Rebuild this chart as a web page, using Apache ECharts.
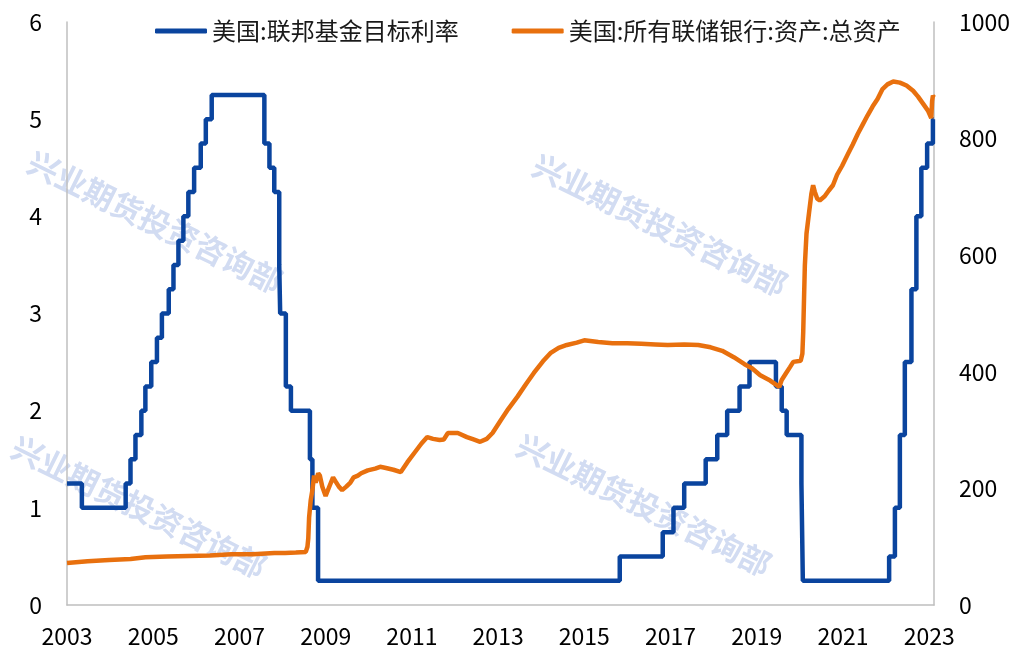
<!DOCTYPE html>
<html>
<head>
<meta charset="utf-8">
<title>联邦基金目标利率与联储总资产</title>
<script src="https://cdn.jsdelivr.net/npm/echarts@6/dist/echarts.min.js"></script>
<style>
html,body{margin:0;padding:0;background:#fff;}
#main{width:1015px;height:652px;}
</style>
</head>
<body>
<div id="main"></div>
<script>
// 联邦基金目标利率(上限), 变动日期 -> 新利率
var rateDates = ['2003-02-19','2003-06-25','2004-06-30','2004-08-10','2004-09-21','2004-11-10','2004-12-14',
	'2005-02-02','2005-03-22','2005-05-03','2005-06-30','2005-08-09','2005-09-20','2005-11-01','2005-12-13',
	'2006-01-31','2006-03-28','2006-05-10','2006-06-29','2007-09-18','2007-10-31','2007-12-11','2008-01-22',
	'2008-01-30','2008-03-18','2008-04-30','2008-10-08','2008-10-29','2008-12-16','2015-12-16','2016-12-14',
	'2017-03-15','2017-06-14','2017-12-13','2018-03-21','2018-06-13','2018-09-26','2018-12-19','2019-07-31',
	'2019-09-18','2019-10-30','2020-03-03','2020-03-15','2022-03-16','2022-05-04','2022-06-15','2022-07-27',
	'2022-09-21','2022-11-02','2022-12-14','2023-02-01','2023-03-22','2023-03-29'];
var rateValues = [1.25,1.00,1.25,1.50,1.75,2.00,2.25,
	2.50,2.75,3.00,3.25,3.50,3.75,4.00,4.25,
	4.50,4.75,5.00,5.25,4.75,4.50,4.25,3.50,
	3.00,2.25,2.00,1.50,1.00,0.25,0.50,0.75,
	1.00,1.25,1.50,1.75,2.00,2.25,2.50,2.25,
	2.00,1.75,1.25,0.25,0.50,1.00,1.75,2.50,
	3.25,4.00,4.50,4.75,5.00,5.00];

// 所有联储银行总资产 (百亿美元)
var assetDates = ['2003-02-19','2003-08-13','2004-02-11','2004-08-11','2004-12-15','2005-06-15','2005-12-14',
	'2006-06-14','2006-12-13','2007-06-13','2007-12-12','2008-03-12','2008-06-11','2008-09-03','2008-09-17',
	'2008-09-24','2008-10-01','2008-10-15','2008-10-29','2008-11-12','2008-11-26','2008-12-17','2008-12-31',
	'2009-01-21','2009-02-18','2009-03-04','2009-03-25','2009-04-22','2009-05-13','2009-06-10','2009-07-08',
	'2009-08-12','2009-09-16','2009-10-14','2009-11-18','2009-12-16','2010-02-10','2010-04-14','2010-05-26',
	'2010-07-14','2010-09-15','2010-11-17','2011-01-12','2011-03-16','2011-05-11','2011-06-29','2011-08-17',
	'2011-10-12','2011-11-16','2011-12-21','2012-03-14','2012-05-30','2012-07-25','2012-09-19','2012-11-14',
	'2013-01-02','2013-03-13','2013-05-15','2013-07-31','2013-10-16','2013-12-18','2014-03-05','2014-05-07',
	'2014-07-16','2014-09-24','2014-12-17','2015-02-18','2015-06-17','2015-10-14','2016-02-17','2016-06-15',
	'2016-10-12','2017-01-25','2017-06-14','2017-10-11','2018-01-24','2018-05-02','2018-08-08','2018-11-07',
	'2019-01-09','2019-03-20','2019-06-12','2019-08-28','2019-09-18','2019-10-23','2019-11-27','2019-12-25',
	'2020-02-26','2020-03-11','2020-03-18','2020-03-25','2020-04-01','2020-04-15','2020-05-06','2020-05-27',
	'2020-06-10','2020-06-24','2020-07-15','2020-08-05','2020-09-16','2020-10-21','2020-11-25','2020-12-30',
	'2021-02-10','2021-03-31','2021-05-12','2021-06-23','2021-08-04','2021-09-15','2021-10-27','2021-12-08',
	'2022-01-19','2022-03-02','2022-04-20','2022-06-15','2022-08-10','2022-10-05','2022-11-16','2022-12-28',
	'2023-02-08','2023-03-08','2023-03-15','2023-03-22','2023-03-29'];
var assetValues = [72,75,77,79,82,83,84,
	85,87,87,89,89,90,91,100,
	114,150,180,197,222,210,226,222,
	203,187,190,205,219,212,203,197,
	203,210,219,222,226,231,234,237,
	235,232,228,245,262,277,288,285,
	283,284,295,295,288,284,280,285,
	295,317,336,357,380,398,418,432,
	441,446,450,454,451,449,449,448,
	447,446,447,446,442,436,425,413,
	406,394,385,374,386,397,408,417,
	419,431,467,525,582,637,672,706,
	720,709,697,694,701,711,720,738,
	753,773,790,808,824,840,855,868,
	885,893,898,896,891,882,872,860,
	848,835,864,874,871];

var yearLabels = ['2003','2005','2007','2009','2011','2013','2015','2017','2019','2021','2023'];
var leftTicks = ['0','1','2','3','4','5','6'];
var rightTicks = ['0','200','400','600','800','1000'];

var startDate = '2003-02-19';
var axisSpan = 20.11;   // 年

function toYears(d){
	var t = new Date(d + 'T00:00:00Z').getTime();
	var s = new Date(startDate + 'T00:00:00Z').getTime();
	return (t - s) / (365.25 * 24 * 3600 * 1000);
}

function pairs(dates, values){
	var out = [];
	for (var i = 0; i < dates.length; i++) {
		out.push([toYears(dates[i]), values[i]]);
	}
	return out;
}

var font = '"Noto Sans CJK SC", "Noto Sans", sans-serif';
var mark = '兴业期货投资咨询部';
var markPos = [[30, 160], [535, 163], [14, 445], [519, 443]];
var graphics = [];
for (var i = 0; i < markPos.length; i++) {
	graphics.push({
		type: 'text',
		x: markPos[i][0],
		y: markPos[i][1],
		rotation: -0.46,
		z: -10,
		silent: true,
		style: {
			text: mark,
			fill: '#d2dcf2',
			fontSize: 31,
			fontWeight: 'bold',
			fontFamily: font,
			verticalAlign: 'middle'
		}
	});
}

var myChart = echarts.init(document.getElementById('main'));
var option = {
	animation: false,
	textStyle: {fontFamily: font},
	graphic: graphics,
	legend: {
		top: 14,
		left: 150,
		itemGap: 53,
		itemWidth: 52,
		itemHeight: 5,
		icon: 'roundRect',
		textStyle: {fontSize: 24, color: '#1a1a1a', fontFamily: font},
		data: ['美国:联邦基金目标利率', '美国:所有联储银行:资产:总资产']
	},
	grid: {left: 67, right: 81, top: 22, bottom: 47},
	xAxis: {
		type: 'value',
		min: 0,
		max: axisSpan,
		interval: 2,
		splitLine: {show: false},
		axisTick: {show: false},
		axisLine: {lineStyle: {color: '#bfbfbf', width: 1.5}},
		axisLabel: {
			showMaxLabel: false,
			margin: 20,
			fontSize: 23,
			color: '#000',
			formatter: function(v){
				return yearLabels[Math.round(v / 2)];
			}
		}
	},
	yAxis: [
		{
			type: 'value',
			min: 0,
			max: 6,
			interval: 1,
			splitLine: {show: false},
			axisTick: {show: false},
			axisLine: {show: true, lineStyle: {color: '#bfbfbf', width: 1.5}},
			axisLabel: {
				margin: 25,
				fontSize: 23,
				color: '#000',
				formatter: function(v){ return leftTicks[Math.round(v)]; }
			}
		},
		{
			type: 'value',
			min: 0,
			max: 1000,
			interval: 200,
			splitLine: {show: false},
			axisTick: {show: false},
			axisLine: {show: true, lineStyle: {color: '#bfbfbf', width: 1.5}},
			axisLabel: {
				margin: 25,
				fontSize: 23,
				color: '#000',
				formatter: function(v){ return rightTicks[Math.round(v / 200)]; }
			}
		}
	],
	series: [
		{
			name: '美国:联邦基金目标利率',
			type: 'line',
			step: 'end',
			yAxisIndex: 0,
			showSymbol: false,
			symbol: 'none',
			itemStyle: {color: '#0a449e'},
			lineStyle: {color: '#0a449e', width: 4.5},
			z: 3,
			data: pairs(rateDates, rateValues)
		},
		{
			name: '美国:所有联储银行:资产:总资产',
			type: 'line',
			yAxisIndex: 1,
			showSymbol: false,
			symbol: 'none',
			itemStyle: {color: '#e8700e'},
			lineStyle: {color: '#e8700e', width: 4.5},
			z: 4,
			data: pairs(assetDates, assetValues)
		}
	]
};
myChart.setOption(option);
</script>
</body>
</html>
